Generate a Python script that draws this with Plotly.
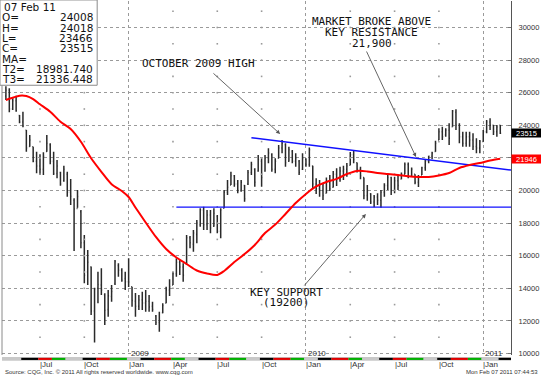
import pandas as pd
import plotly.graph_objects as go

# ---------------- data (weekly bars) ----------------
first_week = "2008-04-28"
highs = [26400, 26270, 25660, 25820, 24630, 24830, 23710, 23400, 22690, 22380,
         22220, 22340, 23400, 22900, 22380, 21870, 21150, 21520, 21150, 20710,
         19520, 20030, 18800, 17270, 16350, 15330, 14040, 15020, 15230, 13690,
         13900, 14200, 15740, 15530, 15230, 15020, 15840, 14100, 13710, 13590,
         13790, 13900, 13590, 13180, 12360, 12560, 13080, 14100, 14550, 15020,
         15840, 15740, 15530, 17270, 17210, 17580, 18190, 18910, 19010, 18800,
         18800, 18910, 18500, 18910, 20030, 20640, 21150, 20950, 20640, 20640,
         20340, 21260, 21770, 21360, 22180, 21980, 22180, 22590, 22280, 21980,
         22790, 23100, 22900, 22690, 22490, 22280, 21870, 22280, 21980, 22640,
         21520, 20750, 20640, 20460, 20800, 20950, 21200, 21360, 21460, 21520,
         21690, 22360, 22420, 21720, 21460, 20800, 20340, 19830, 19720, 19830,
         20030, 20440, 20950, 20850, 20850, 20950, 21100, 21720, 21720, 21410,
         21000, 20950, 21460, 21920, 22130, 22380, 23050, 23820, 23910, 23820,
         24120, 24940, 24990, 24120, 23610, 23610, 23610, 23510, 23200, 23100,
         23710, 24330, 24430, 24020, 24020, 24018]
lows = [25550, 24800, 24940, 24830, 24120, 23880, 22380, 22690, 21730, 21060,
        20950, 20950, 22380, 21610, 20950, 20750, 20290, 20540, 19620, 19110,
        16290, 18940, 16450, 14310, 14200, 12360, 10680, 13080, 13590, 11750,
        12260, 13180, 14200, 14710, 14400, 13900, 14080, 12870, 12260, 12670,
        12670, 12560, 12560, 12560, 11750, 11340, 12470, 13080, 13530, 14200,
        14710, 14820, 14400, 15430, 16450, 16250, 16760, 17780, 17580, 17580,
        17370, 17780, 17370, 17070, 18910, 19720, 20340, 20230, 19830, 19930,
        19310, 20340, 20950, 20230, 21150, 20230, 21150, 21670, 21150, 21060,
        21980, 22280, 21460, 21770, 21670, 21460, 20950, 21260, 21460, 21460,
        20140, 19790, 19620, 19420, 19830, 19970, 20180, 20280, 20540, 20640,
        20850, 21550, 21670, 21100, 20690, 19470, 19370, 19170, 18970, 19110,
        18940, 19620, 20030, 19720, 19830, 20030, 20690, 21000, 20750, 20850,
        20390, 20210, 20950, 21210, 21670, 21920, 22380, 23100, 23100, 23300,
        22790, 23910, 23710, 22900, 22690, 22690, 22690, 22490, 22280, 22280,
        22990, 23510, 23710, 23400, 23300, 23466]
opens = [25800, 26150, 25000, 25500, 24600, 24200, 23700, 22700, 22690, 21800,
         21500, 21300, 22400, 22800, 21800, 21050, 21100, 20600, 21000, 19900,
         19400, 18900, 18700, 16800, 15000, 15300, 12600, 14000, 14200, 13600,
         12700, 13500, 14300, 15400, 15100, 14600, 14400, 14100, 13200, 12900,
         13300, 13100, 13200, 12900, 12300, 11900, 12500, 13100, 13900, 14200,
         14900, 15600, 15300, 15500, 17100, 16700, 17300, 17900, 18800, 17900,
         18500, 17800, 18400, 17500, 18910, 19900, 20340, 20900, 20400, 20000,
         20300, 20400, 21100, 21300, 21200, 21800, 21200, 22000, 22200, 21300,
         21980, 22600, 22800, 21800, 22400, 21800, 21800, 21300, 21900, 21600,
         21500, 20400, 20100, 20000, 19830, 20500, 20200, 21000, 20700, 21200,
         21300, 21550, 22200, 21700, 21300, 20800, 19700, 19800, 19300, 19600,
         19400, 19900, 20300, 20800, 20000, 20600, 20700, 21000, 21600, 20900,
         21000, 20500, 20950, 21400, 21800, 22100, 22400, 23100, 23600, 23400,
         23700, 23910, 24800, 24000, 23300, 22900, 23300, 23100, 22700, 22600,
         23000, 23600, 24200, 24000, 23600, 24008]
closes = [26150, 25000, 25500, 24900, 24200, 23950, 22600, 23100, 21800, 21500,
          21300, 22100, 22900, 21800, 21050, 21500, 20400, 21300, 19900, 19650,
          18870, 19630, 16800, 14800, 15600, 12600, 13970, 14240, 13900, 12660,
          13550, 13800, 15650, 15100, 14500, 14400, 14380, 13250, 12900, 13280,
          13100, 13200, 12850, 12700, 11900, 12000, 12950, 13900, 14100, 14900,
          15600, 15300, 14800, 17100, 16800, 17400, 18000, 18800, 17900, 18500,
          17700, 18600, 17500, 18800, 19900, 20200, 20900, 20400, 20000, 20500,
          19500, 21100, 21600, 20500, 21900, 20800, 22000, 22300, 21300, 21800,
          22600, 22900, 21700, 22500, 21800, 22000, 21100, 22000, 21600, 22500,
          20400, 20100, 20000, 19700, 20500, 20100, 21000, 20700, 21200, 21300,
          21500, 22200, 21900, 21300, 20900, 19700, 20000, 19300, 19600, 19400,
          19900, 20300, 20800, 20000, 20600, 20300, 21000, 21600, 20900, 21300,
          20500, 20800, 21400, 21800, 22100, 22300, 22900, 23600, 23300, 23700,
          23200, 24880, 24000, 23300, 22900, 23300, 23100, 22700, 22600, 23000,
          23600, 24200, 24000, 23600, 23900, 23515]

ma_dates = ["2008-04-28", "2008-05-12", "2008-05-26", "2008-06-09", "2008-06-23",
            "2008-07-07", "2008-07-28", "2008-08-18", "2008-09-08", "2008-09-29",
            "2008-10-20", "2008-11-10", "2008-12-01", "2008-12-22", "2009-01-05",
            "2009-01-19", "2009-02-09", "2009-03-02", "2009-03-23", "2009-04-13",
            "2009-05-04", "2009-05-25", "2009-06-15", "2009-07-06", "2009-07-20",
            "2009-08-10", "2009-08-31", "2009-09-21", "2009-10-12", "2009-11-02",
            "2009-11-23", "2009-12-14", "2010-01-04", "2010-01-25", "2010-02-15",
            "2010-03-08", "2010-03-29", "2010-04-19", "2010-05-10", "2010-05-31",
            "2010-06-21", "2010-07-12", "2010-08-02", "2010-08-23", "2010-09-13",
            "2010-10-04", "2010-10-25", "2010-11-15", "2010-12-06", "2010-12-27",
            "2011-01-17", "2011-02-07"]
ma_values = [25550, 25690, 25820, 25800, 25610, 25290, 24830, 24220, 23770, 22990,
             21980, 21150, 20390, 19970, 19600, 18960, 18040, 17150, 16410, 15890,
             15490, 15090, 14910, 14820, 15060, 15610, 16100, 16660, 17390, 17910,
             18560, 19230, 19790, 20250, 20520, 20710, 21010, 21200, 21170, 21070,
             21010, 20950, 20870, 20830, 20830, 20920, 21070, 21380, 21560, 21690,
             21840, 21946]

support_dates = ["2009-04-13", "2011-03-01"]
support_values = [18981.74, 18981.74]
resist_dates = ["2009-09-14", "2011-03-01"]
resist_values = [23240, 21255]

y_ticks = list(range(10000, 30001, 2000))
y_hidden = [22000]  # covered by the MA price box in the original
year_ticks = ["2009-01-05", "2010-01-04", "2011-01-03"]
year_labels = ["2009", "2010", "2011"]
month_ticks = ["2008-07-07", "2008-10-06", "2009-01-05", "2009-04-06", "2009-07-06",
               "2009-10-05", "2010-01-04", "2010-04-05", "2010-07-05", "2010-10-04",
               "2011-01-03"]
month_labels = ["Jul", "Oct", "Jan", "Apr", "Jul", "Oct", "Jan", "Apr", "Jul", "Oct", "Jan"]
month_firsts = ["2008-04-20", "2008-06-02", "2008-07-07", "2008-08-04", "2008-09-01",
                "2008-10-06", "2008-11-03", "2008-12-01", "2009-01-05", "2009-02-02",
                "2009-03-02", "2009-04-06", "2009-05-04", "2009-06-01", "2009-07-06",
                "2009-08-03", "2009-09-07", "2009-10-05", "2009-11-02", "2009-12-07",
                "2010-01-04", "2010-02-01", "2010-03-01", "2010-04-05", "2010-05-03",
                "2010-06-07", "2010-07-05", "2010-08-02", "2010-09-06", "2010-10-04",
                "2010-11-01", "2010-12-06", "2011-01-03", "2011-02-07", "2011-03-01"]
band_cycle = ["#c8c8c8", "#000000", "#e00000", "#00b000"]  # May08 gray, Jun black, Jul red, Aug green

info_labels = ["O=", "H=", "L=", "C=", "MA=", "T2=", "T3="]
info_values = ["24008", "24018", "23466", "23515", "", "18981.740", "21336.448"]
info_date = "07 Feb 11"

x_range = ["2008-04-20", "2011-03-01"]
y_range = [9908, 31626]

# ---------------- figure ----------------
dates = pd.date_range(first_week, periods=len(closes), freq="7D")
fig = go.Figure()

# quarter grid dots
q_dates = [d for d in month_ticks if d not in year_ticks]
dot_x, dot_y = [], []
for d in q_dates:
    for v in range(11000, 31001, 1000):
        dot_x.append(d)
        dot_y.append(v)
fig.add_trace(go.Scatter(x=dot_x, y=dot_y, mode="markers", hoverinfo="skip",
                         marker=dict(size=1.6, color="#9a9a9a", symbol="square"),
                         showlegend=False))

fig.add_trace(go.Ohlc(x=dates, open=opens, high=highs, low=lows, close=closes,
                      increasing=dict(line=dict(color="#2a2a2a", width=1.5)),
                      decreasing=dict(line=dict(color="#2a2a2a", width=1.5)),
                      tickwidth=0.25, showlegend=False))

fig.add_trace(go.Scatter(x=support_dates, y=support_values, mode="lines",
                         line=dict(color="#1010ff", width=1.4), showlegend=False))
fig.add_trace(go.Scatter(x=resist_dates, y=resist_values, mode="lines",
                         line=dict(color="#1010ff", width=1.4), showlegend=False))
fig.add_trace(go.Scatter(x=ma_dates, y=ma_values, mode="lines",
                         line=dict(color="#ff0000", width=2, shape="spline", smoothing=0.8),
                         showlegend=False))

shapes = []
# bottom time band
shapes.append(dict(type="rect", xref="paper", yref="paper", x0=0, x1=1,
                   y0=-0.0165, y1=-0.0055, fillcolor="#c8c8c8", line=dict(width=0), layer="above"))
for i in range(len(month_firsts) - 1):
    x0 = pd.Timestamp(month_firsts[i]) - pd.Timedelta(days=3.5) if i > 0 else pd.Timestamp(month_firsts[i])
    x1 = pd.Timestamp(month_firsts[i + 1]) - pd.Timedelta(days=3.5) if i + 1 < len(month_firsts) - 1 else pd.Timestamp(month_firsts[i + 1])
    shapes.append(dict(type="rect", xref="x", yref="paper", x0=x0, x1=x1,
                       y0=-0.014, y1=-0.008, fillcolor=band_cycle[i % 4],
                       line=dict(width=0), layer="above"))
# left border
shapes.append(dict(type="line", xref="paper", yref="paper", x0=0, x1=0, y0=0, y1=1,
                   line=dict(color="#8a8a8a", width=1)))
# info box
shapes.append(dict(type="rect", xref="paper", yref="paper", x0=-0.004, x1=0.187,
                   y0=0.762, y1=1.003, fillcolor="white", line=dict(color="#8a8a8a", width=1),
                   layer="above"))

ann = []
mono = "DejaVu Sans Mono"
def txt(x, y, s, **kw):
    d = dict(x=x, y=y, text=s, showarrow=False, font=dict(family=mono, size=11, color="#111"))
    d.update(kw)
    ann.append(d)

txt("2009-05-28", 27822, "OCTOBER 2009 HIGH")
txt("2010-05-19", 30399, "MARKET BROKE ABOVE")
txt("2010-05-19", 29724, "KEY RESISTANCE")
txt("2010-05-19", 29049, "21,900")
txt("2009-11-25", 13730, "KEY SUPPORT")
txt("2009-11-25", 13117, "(19200)")

def arrow(hx, hy, tx, ty):
    ann.append(dict(x=hx, y=hy, ax=tx, ay=ty, xref="x", yref="y", axref="x", ayref="y",
                    text="", showarrow=True, arrowhead=2, arrowsize=0.9, arrowwidth=0.9,
                    arrowcolor="#555555", standoff=0))

arrow("2009-11-12", 23466, "2009-06-25", 27270)
arrow("2010-08-18", 22055, "2010-05-07", 28620)
arrow("2010-05-07", 18558, "2009-12-29", 14080)

# info box text
sans = "DejaVu Sans"
def py(pix):
    return (355 - pix) / 354.0
row_y = [7, 17.4, 27.7, 38, 48.3, 58.6, 69, 79.3]
ann.append(dict(x=0.0, y=py(row_y[0]), xref="paper", yref="paper", text=info_date,
                showarrow=False, xanchor="left", yanchor="middle",
                font=dict(family=sans, size=10.5, color="#111")))
for i, (lab, val) in enumerate(zip(info_labels, info_values)):
    ann.append(dict(x=-0.003, y=py(row_y[i + 1]), xref="paper", yref="paper", text=lab,
                    showarrow=False, xanchor="left", yanchor="middle",
                    font=dict(family=sans, size=10.5, color="#111")))
    if val:
        ann.append(dict(x=0.183, y=py(row_y[i + 1]), xref="paper", yref="paper", text=val,
                        showarrow=False, xanchor="right", yanchor="middle",
                        font=dict(family=sans, size=10.5, color="#111")))

# time axis labels
for d, lab in zip(month_ticks, month_labels):
    ann.append(dict(x=d, y=-0.026, xref="x", yref="paper", text="|" + lab, showarrow=False,
                    xanchor="left", yanchor="middle", xshift=-2,
                    font=dict(family="Liberation Sans", size=8, color="#333")))
for d, lab in zip(year_ticks, year_labels):
    ann.append(dict(x=d, y=0.004, xref="x", yref="paper", text=lab, showarrow=False,
                    xanchor="left", yanchor="middle", xshift=0,
                    font=dict(family="Liberation Sans", size=8, color="#333")))

# last price / MA boxes
ann.append(dict(x=1.0, y=closes[-1], xref="paper", yref="y", text=str(closes[-1]),
                showarrow=False, xanchor="left", yanchor="middle", bgcolor="#000000",
                width=29, height=8, borderpad=0,
                font=dict(family="Liberation Sans", size=7.5, color="white")))
ann.append(dict(x=1.0, y=ma_values[-1], xref="paper", yref="y", text=str(ma_values[-1]),
                showarrow=False, xanchor="left", yanchor="middle", bgcolor="#ff0000",
                width=29, height=8, borderpad=0,
                font=dict(family="Liberation Sans", size=7.5, color="white")))

# footer
ann.append(dict(x=0.002, y=py(372), xref="paper", yref="paper", showarrow=False,
                text="Source: CQG, Inc. \u00a9 2011 All rights reserved worldwide. www.cqg.com",
                xanchor="left", yanchor="middle",
                font=dict(family="Liberation Sans", size=6, color="#333")))
ann.append(dict(x=(540 - 2) / 509.0, y=py(372), xref="paper", yref="paper", showarrow=False,
                text="Mon Feb 07 2011 07:44:53", xanchor="right", yanchor="middle",
                font=dict(family="Liberation Sans", size=6, color="#333")))

fig.update_layout(
    width=541, height=375,
    margin=dict(l=2, r=30, t=1, b=20),
    paper_bgcolor="white", plot_bgcolor="white",
    shapes=shapes, annotations=ann, showlegend=False,
    xaxis=dict(type="date", range=x_range, rangeslider=dict(visible=False),
               tickvals=year_ticks, showticklabels=False, ticks="",
               showgrid=True, gridcolor="#9a9a9a", griddash="dot", gridwidth=1,
               zeroline=False, showline=False),
    yaxis=dict(side="right", range=y_range, tickvals=y_ticks,
               ticktext=["" if v in y_hidden else str(v) for v in y_ticks],
               showgrid=True, gridcolor="#9a9a9a", griddash="dot", gridwidth=1,
               zeroline=False, showline=True, linecolor="#555", linewidth=1,
               ticks="inside", ticklen=3, tickcolor="#777",
               ticklabelstandoff=5,
               tickfont=dict(family="Liberation Sans", size=7.5, color="#333")),
)

fig.write_html("out.html", config={"displayModeBar": False},
               post_script="document.body.style.margin='0px';document.body.style.overflow='hidden';")
